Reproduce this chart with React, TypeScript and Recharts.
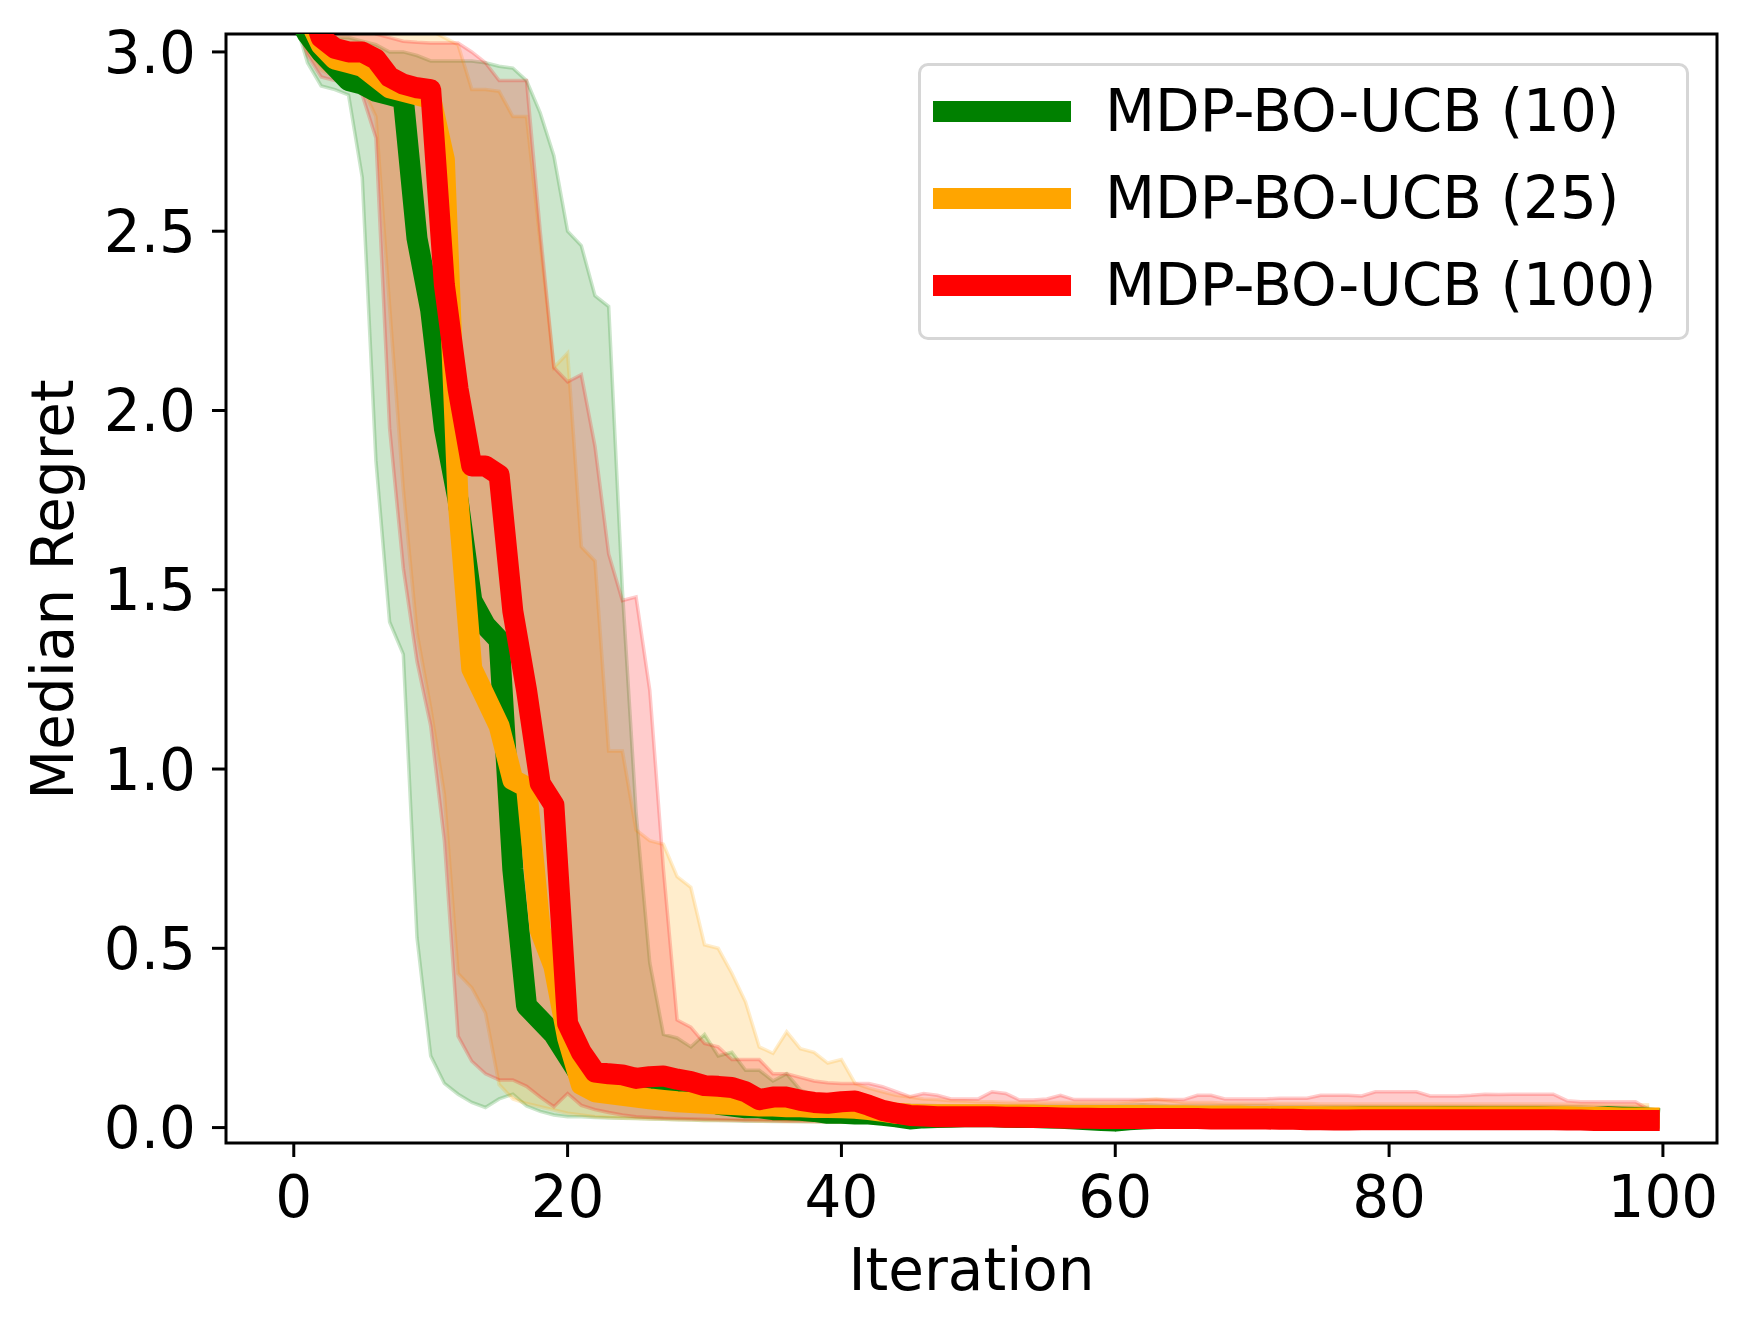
import React from 'react';
import {
  ComposedChart,
  Line,
  Area,
  XAxis,
  YAxis,
  Legend,
  ReferenceArea,
} from 'recharts';

// Median regret per iteration (index = iteration)
const GREEN_MEDIAN = [
  3.12, 3.05, 3.0, 2.96, 2.92, 2.91, 2.89, 2.88, 2.87, 2.48,
  2.28, 1.95, 1.75, 1.47, 1.4, 1.36, 0.72, 0.34, 0.3, 0.26,
  0.2, 0.14, 0.12, 0.12, 0.11, 0.11, 0.1, 0.1, 0.095, 0.09,
  0.08, 0.065, 0.06, 0.055, 0.055, 0.05, 0.05, 0.048, 0.045, 0.04,
  0.04, 0.038, 0.038, 0.034, 0.03, 0.024, 0.027, 0.028, 0.029, 0.03,
  0.03, 0.03, 0.029, 0.028, 0.028, 0.027, 0.026, 0.024, 0.022, 0.02,
  0.018, 0.022, 0.024, 0.025, 0.025, 0.026, 0.026, 0.026, 0.026, 0.027,
  0.027, 0.027, 0.027, 0.028, 0.028, 0.028, 0.029, 0.029, 0.03, 0.03,
  0.03, 0.03, 0.03, 0.03, 0.031, 0.031, 0.031, 0.03, 0.03, 0.03,
  0.03, 0.03, 0.029, 0.028, 0.026, 0.028, 0.03, 0.029, 0.028, 0.026,
];
const GREEN_LOWER = [
  3.1, 2.97, 2.905, 2.895, 2.88, 2.65, 1.86, 1.41, 1.32, 0.53,
  0.2, 0.123, 0.093, 0.07, 0.056, 0.08, 0.093, 0.06, 0.045, 0.035,
  0.03, 0.03, 0.028, 0.027, 0.026, 0.025, 0.024, 0.023, 0.022, 0.021,
  0.02, 0.02, 0.019, 0.018, 0.018, 0.017, 0.017, 0.016, 0.016, 0.015,
  0.015, 0.015, 0.014, 0.014, 0.013, 0.012, 0.012, 0.012, 0.012, 0.012,
  0.012, 0.012, 0.012, 0.012, 0.012, 0.012, 0.012, 0.012, 0.011, 0.011,
  0.011, 0.011, 0.011, 0.011, 0.011, 0.011, 0.011, 0.011, 0.011, 0.011,
  0.011, 0.011, 0.011, 0.011, 0.011, 0.011, 0.011, 0.011, 0.011, 0.011,
  0.011, 0.011, 0.011, 0.011, 0.011, 0.011, 0.011, 0.011, 0.011, 0.011,
  0.011, 0.011, 0.011, 0.011, 0.011, 0.011, 0.011, 0.011, 0.011, 0.011,
];
const GREEN_UPPER = [
  3.15, 3.05, 3.05, 3.04, 3.04, 3.03, 3.02, 3.0, 3.0, 2.99,
  2.975, 2.975, 2.975, 2.975, 2.97, 2.96, 2.955, 2.92, 2.83, 2.71,
  2.5, 2.46, 2.32, 2.29, 1.5, 0.88, 0.46, 0.26, 0.25, 0.225,
  0.26, 0.2, 0.21, 0.16, 0.16, 0.13, 0.15, 0.105, 0.09, 0.085,
  0.078, 0.075, 0.07, 0.066, 0.064, 0.062, 0.062, 0.061, 0.06, 0.06,
  0.06, 0.06, 0.06, 0.06, 0.06, 0.06, 0.06, 0.06, 0.06, 0.06,
  0.06, 0.062, 0.064, 0.062, 0.06, 0.06, 0.06, 0.06, 0.06, 0.06,
  0.06, 0.06, 0.058, 0.058, 0.058, 0.058, 0.058, 0.058, 0.058, 0.058,
  0.058, 0.058, 0.058, 0.058, 0.058, 0.058, 0.058, 0.058, 0.058, 0.058,
  0.058, 0.058, 0.058, 0.058, 0.058, 0.056, 0.056, 0.055, 0.055, 0.055,
];

const ORANGE_MEDIAN = [
  3.2, 3.1, 3.02, 2.98, 2.97, 2.96, 2.93, 2.9, 2.89, 2.88,
  2.87, 2.7, 1.75, 1.28, 1.2, 1.12, 0.97, 0.95, 0.55, 0.45,
  0.25, 0.12, 0.1, 0.095, 0.09, 0.085, 0.08, 0.076, 0.072, 0.07,
  0.068, 0.066, 0.064, 0.062, 0.06, 0.06, 0.058, 0.058, 0.056, 0.056,
  0.055, 0.054, 0.05, 0.045, 0.04, 0.037, 0.036, 0.036, 0.036, 0.036,
  0.036, 0.036, 0.035, 0.035, 0.035, 0.034, 0.034, 0.034, 0.034, 0.034,
  0.034, 0.034, 0.034, 0.033, 0.033, 0.033, 0.032, 0.032, 0.032, 0.032,
  0.031, 0.031, 0.031, 0.031, 0.031, 0.03, 0.03, 0.03, 0.03, 0.03,
  0.03, 0.03, 0.03, 0.03, 0.03, 0.03, 0.03, 0.03, 0.03, 0.03,
  0.03, 0.03, 0.03, 0.03, 0.029, 0.029, 0.028, 0.027, 0.027, 0.027,
];
const ORANGE_LOWER = [
  3.1, 3.0, 2.95, 2.93, 2.92, 2.9, 2.82, 2.29, 1.78, 1.38,
  1.17, 0.93, 0.43, 0.39, 0.32, 0.12, 0.08, 0.067, 0.058, 0.049,
  0.04, 0.035, 0.03, 0.028, 0.026, 0.025, 0.024, 0.023, 0.022, 0.021,
  0.02, 0.02, 0.019, 0.019, 0.018, 0.018, 0.017, 0.017, 0.016, 0.016,
  0.015, 0.015, 0.015, 0.014, 0.014, 0.014, 0.013, 0.013, 0.013, 0.013,
  0.013, 0.013, 0.013, 0.013, 0.013, 0.012, 0.012, 0.012, 0.012, 0.012,
  0.012, 0.012, 0.012, 0.012, 0.012, 0.012, 0.012, 0.012, 0.012, 0.012,
  0.012, 0.012, 0.012, 0.012, 0.012, 0.012, 0.012, 0.012, 0.012, 0.012,
  0.012, 0.012, 0.012, 0.012, 0.012, 0.012, 0.012, 0.012, 0.012, 0.012,
  0.012, 0.012, 0.012, 0.012, 0.012, 0.012, 0.012, 0.012, 0.012, 0.012,
];
const ORANGE_UPPER = [
  3.2, 3.18, 3.15, 3.12, 3.1, 3.09, 3.08, 3.07, 3.07, 3.06,
  3.06, 3.04, 3.02, 2.895, 2.895, 2.89, 2.82, 2.82, 2.47, 2.12,
  2.16, 1.62, 1.58, 1.05, 1.05, 0.83, 0.8, 0.79, 0.7, 0.67,
  0.51, 0.5, 0.43, 0.35, 0.225, 0.207, 0.267, 0.22, 0.21, 0.18,
  0.19, 0.123, 0.11, 0.1, 0.09, 0.085, 0.08, 0.078, 0.075, 0.074,
  0.072, 0.072, 0.071, 0.07, 0.07, 0.07, 0.07, 0.07, 0.07, 0.07,
  0.07, 0.072, 0.076, 0.08, 0.075, 0.07, 0.07, 0.07, 0.068, 0.068,
  0.068, 0.068, 0.067, 0.067, 0.067, 0.066, 0.066, 0.066, 0.066, 0.066,
  0.066, 0.066, 0.066, 0.066, 0.066, 0.066, 0.066, 0.066, 0.066, 0.066,
  0.066, 0.066, 0.066, 0.065, 0.065, 0.065, 0.064, 0.064, 0.064, 0.064,
];

const RED_MEDIAN = [
  3.3, 3.15, 3.04, 3.01, 3.0, 3.0, 2.98, 2.93, 2.91, 2.9,
  2.895, 2.35, 2.06, 1.845, 1.845, 1.82, 1.44, 1.22, 0.96, 0.9,
  0.29, 0.21, 0.155, 0.15, 0.147, 0.137, 0.142, 0.144, 0.135, 0.128,
  0.117, 0.115, 0.112, 0.1, 0.078, 0.085, 0.085, 0.076, 0.07, 0.068,
  0.072, 0.074, 0.062, 0.048, 0.04, 0.034, 0.032, 0.03, 0.03, 0.03,
  0.03, 0.03, 0.029, 0.029, 0.028, 0.028, 0.027, 0.026, 0.026, 0.025,
  0.025, 0.025, 0.025, 0.025, 0.025, 0.025, 0.025, 0.024, 0.024, 0.024,
  0.024, 0.024, 0.023, 0.023, 0.022, 0.022, 0.021, 0.021, 0.022, 0.022,
  0.022, 0.022, 0.022, 0.022, 0.022, 0.022, 0.022, 0.022, 0.022, 0.022,
  0.022, 0.022, 0.022, 0.021, 0.021, 0.02, 0.02, 0.02, 0.02, 0.02,
];
const RED_LOWER = [
  3.1, 2.99, 2.93, 2.92, 2.92, 2.88, 2.76, 1.95, 1.56, 1.3,
  1.12, 0.8, 0.255, 0.185, 0.15, 0.133, 0.133, 0.115, 0.085, 0.058,
  0.095, 0.062, 0.05, 0.042, 0.035, 0.03, 0.028, 0.026, 0.025, 0.024,
  0.023, 0.022, 0.021, 0.02, 0.02, 0.019, 0.018, 0.018, 0.017, 0.017,
  0.016, 0.016, 0.015, 0.015, 0.014, 0.014, 0.013, 0.013, 0.013, 0.013,
  0.013, 0.013, 0.012, 0.012, 0.012, 0.012, 0.012, 0.012, 0.012, 0.012,
  0.012, 0.012, 0.012, 0.012, 0.012, 0.012, 0.012, 0.012, 0.012, 0.012,
  0.012, 0.012, 0.012, 0.012, 0.012, 0.012, 0.012, 0.012, 0.012, 0.012,
  0.012, 0.012, 0.012, 0.012, 0.012, 0.012, 0.012, 0.012, 0.012, 0.012,
  0.012, 0.012, 0.012, 0.012, 0.012, 0.012, 0.012, 0.012, 0.012, 0.012,
];
const RED_UPPER = [
  3.3, 3.25, 3.2, 3.15, 3.12, 3.1, 3.05, 3.04, 3.03, 3.027,
  3.025, 3.025, 3.025, 3.0, 2.97, 2.92, 2.92, 2.92, 2.5, 2.12,
  2.08, 2.1, 1.9, 1.6, 1.47, 1.48, 1.22, 0.72, 0.3, 0.28,
  0.235, 0.225, 0.19, 0.19, 0.19, 0.15, 0.15, 0.14, 0.13, 0.125,
  0.123, 0.123, 0.123, 0.114, 0.1, 0.086, 0.095, 0.09, 0.08, 0.08,
  0.08, 0.1, 0.095, 0.077, 0.077, 0.08, 0.09, 0.078, 0.078, 0.078,
  0.078, 0.078, 0.078, 0.078, 0.078, 0.078, 0.09, 0.09, 0.08, 0.08,
  0.08, 0.08, 0.082, 0.082, 0.082, 0.09, 0.09, 0.09, 0.088, 0.1,
  0.1, 0.1, 0.1, 0.088, 0.088, 0.088, 0.09, 0.093, 0.092, 0.093,
  0.093, 0.093, 0.093, 0.075, 0.072, 0.072, 0.072, 0.072, 0.072, 0.05,
];

const X_TICKS = [0, 20, 40, 60, 80, 100];
const Y_TICKS = [0, 0.5, 1, 1.5, 2, 2.5, 3];

const SERIES = [
  { key: 'n10', name: 'MDP-BO-UCB (10)', color: 'green', median: GREEN_MEDIAN, lower: GREEN_LOWER, upper: GREEN_UPPER },
  { key: 'n25', name: 'MDP-BO-UCB (25)', color: 'orange', median: ORANGE_MEDIAN, lower: ORANGE_LOWER, upper: ORANGE_UPPER },
  { key: 'n100', name: 'MDP-BO-UCB (100)', color: 'red', median: RED_MEDIAN, lower: RED_LOWER, upper: RED_UPPER },
];

const data = GREEN_MEDIAN.map((_, i) => {
  const row: Record<string, number | number[]> = { iteration: i };
  SERIES.forEach((s) => {
    row[s.key] = s.median[i];
    row[s.key + 'Band'] = [s.lower[i], s.upper[i]];
  });
  return row;
});

const FONT = 'DejaVu Sans';
const X_DOMAIN: [number, number] = [-4.95, 103.95];
const Y_DOMAIN: [number, number] = [-0.043, 3.05];

function LegendBox() {
  return (
    <div
      style={{
        position: 'relative',
        boxSizing: 'border-box',
        width: 771,
        height: 277,
        border: '3px solid #d6d6d6',
        borderRadius: 10,
        background: 'rgba(255,255,255,0.8)',
        fontFamily: FONT,
      }}
    >
      {SERIES.map((s, k) => (
        <div
          key={s.key}
          style={{ position: 'absolute', left: 0, top: 10 + k * 87, height: 70, width: '100%' }}
        >
          <div
            style={{
              position: 'absolute',
              left: 12,
              top: 24.5,
              width: 138,
              height: 21,
              background: s.color,
            }}
          />
          <div
            style={{
              position: 'absolute',
              left: 184,
              top: 0,
              fontSize: 58,
              lineHeight: '70px',
              color: '#000',
              whiteSpace: 'nowrap',
            }}
          >
            {s.name}
          </div>
        </div>
      ))}
    </div>
  );
}

const XLabel = (props: any) => {
  const { x, y, width } = props.viewBox;
  return (
    <text x={x + width / 2} y={y + 147} textAnchor="middle" fontSize={58} fontFamily={FONT} fill="#000">
      Iteration
    </text>
  );
};

const YLabel = (props: any) => {
  const { y, height } = props.viewBox;
  const cx = 73;
  const cy = y + height / 2 + 1;
  return (
    <text
      x={cx}
      y={cy}
      transform={`rotate(-90, ${cx}, ${cy})`}
      textAnchor="middle"
      fontSize={58}
      fontFamily={FONT}
      fill="#000"
    >
      Median Regret
    </text>
  );
};

export default function App() {
  return (
    <div style={{ position: 'absolute', left: 0, top: 0, width: 1745, height: 1333, background: '#fff', fontFamily: FONT }}>
      <ComposedChart
        width={1745}
        height={1333}
        data={data}
        margin={{ top: 34, right: 28, left: 0, bottom: 0 }}
      >
        <XAxis
          dataKey="iteration"
          type="number"
          domain={X_DOMAIN}
          ticks={X_TICKS}
          interval={0}
          allowDataOverflow
          height={190}
          tickSize={14}
          tickMargin={19}
          axisLine={false}
          tickLine={{ stroke: '#000', strokeWidth: 3 }}
          tick={{ fontSize: 58, fill: '#000', fontFamily: FONT }}
          label={<XLabel />}
        />
        <YAxis
          type="number"
          domain={Y_DOMAIN}
          ticks={Y_TICKS}
          interval={0}
          allowDataOverflow
          width={226}
          tickSize={14}
          tickMargin={16}
          axisLine={false}
          tickLine={{ stroke: '#000', strokeWidth: 3 }}
          tick={{ fontSize: 58, fill: '#000', fontFamily: FONT }}
          tickFormatter={(v: number) => v.toFixed(1)}
          label={<YLabel />}
        />
        {SERIES.map((s) => (
          <Area
            key={s.key + 'Band'}
            type="linear"
            dataKey={s.key + 'Band'}
            stroke={s.color}
            strokeOpacity={0.2}
            strokeWidth={3.5}
            fill={s.color}
            fillOpacity={0.2}
            dot={false}
            activeDot={false}
            legendType="none"
            isAnimationActive={false}
          />
        ))}
        {SERIES.map((s) => (
          <Line
            key={s.key}
            type="linear"
            dataKey={s.key}
            name={s.name}
            stroke={s.color}
            strokeWidth={21}
            strokeLinecap="square"
            strokeLinejoin="round"
            dot={false}
            activeDot={false}
            isAnimationActive={false}
          />
        ))}
        <ReferenceArea
          x1={X_DOMAIN[0]}
          x2={X_DOMAIN[1]}
          y1={Y_DOMAIN[0]}
          y2={Y_DOMAIN[1]}
          fill="none"
          stroke="#000"
          strokeWidth={3}
          ifOverflow="visible"
        />
        <Legend
          layout="horizontal"
          verticalAlign="middle"
          align="center"
          content={() => <LegendBox />}
          wrapperStyle={{ left: 918, top: 63, width: 771, height: 277 }}
        />
      </ComposedChart>
    </div>
  );
}
